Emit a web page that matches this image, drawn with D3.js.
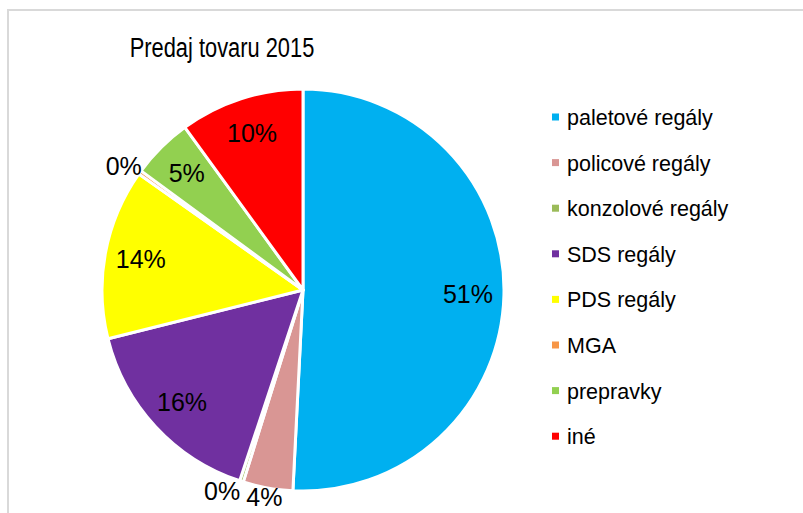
<!DOCTYPE html>
<html>
<head>
<meta charset="utf-8">
<script src="https://cdn.jsdelivr.net/npm/d3@7"></script>
<style>
  body { margin: 0; background: #fff; }
  text { font-family: "Liberation Sans", Arial, sans-serif; }
</style>
</head>
<body>
<div id="chart"></div>
<script>
var width = 803, height = 513;

// data (share of sales, %)
var categories = ["paletové regály", "policové regály", "konzolové regály", "SDS regály",
                  "PDS regály", "MGA", "prepravky", "iné"];
var values = [50.8, 4.0, 0.3, 16.0, 13.7, 0.3, 4.9, 10.0];
var palette = ["#00b0f0", "#d99694", "#9bbb59", "#7030a0", "#ffff00", "#f79646", "#92d050", "#ff0000"];
var title = "Predaj tovaru 2015";

var data = categories.map(function(c, i){ return {name: c, value: values[i]}; });
var total = d3.sum(values);

var color = d3.scaleOrdinal().domain(categories).range(palette);

var cx = 303, cy = 290, radius = 201;

var svg = d3.select("#chart")
    .append("svg")
    .attr("width", width)
    .attr("height", height);

// chart frame (runs off the picture to the right and bottom)
svg.append("rect")
    .attr("x", 8).attr("y", 10)
    .attr("width", 900).attr("height", 600)
    .attr("fill", "none")
    .attr("stroke", "#d9d9d9")
    .attr("stroke-width", 2);

//title, squeezed to look like the narrow original face
svg.append("text")
    .attr("transform", "translate(222, 57) scale(0.81, 1)")
    .attr("text-anchor", "middle")
    .attr("font-size", 27)
    .attr("fill", "#000")
    .text(title);

var pie = d3.pie().sort(null).value(function(d){ return d.value; });
var arcs = pie(data);

var arc = d3.arc().innerRadius(0).outerRadius(radius);

var g = svg.append("g")
    .attr("transform", "translate(" + cx + "," + cy + ")");

//slices
g.selectAll("path")
    .data(arcs)
    .join("path")
    .attr("d", arc)
    .attr("fill", function(d){ return color(d.data.name); })
    .attr("stroke", "#fff")
    .attr("stroke-width", 3)
    .attr("stroke-linejoin", "round");

//percent labels
var labelArc = d3.arc().innerRadius(165).outerRadius(165);
var placed = [];

g.selectAll("text")
    .data(arcs)
    .join("text")
    .attr("text-anchor", "middle")
    .attr("dy", "0.35em")
    .attr("font-size", 25)
    .attr("fill", "#000")
    .text(function(d){ return Math.round(d.data.value / total * 100) + "%"; })
    .each(function(d){
        var el = d3.select(this);
        var share = d.data.value / total;
        var mid = (d.startAngle + d.endAngle) / 2;
        var x, y;
        if (share >= 0.045) {
            var c = labelArc.centroid(d);
            x = c[0]; y = c[1];
        } else {
            // small slices get their label just outside the rim
            var w = this.getComputedTextLength(), h = 16;
            var r = radius + 2;
            x = r * Math.sin(mid) + (w / 2) * Math.sin(mid);
            y = -r * Math.cos(mid) - (h / 2) * Math.cos(mid);
            var dir = Math.sin(mid) < 0 ? -1 : 1;
            placed.forEach(function(p){
                var overlapX = (w / 2 + p.w / 2 + 6) - Math.abs(x - p.x);
                var overlapY = (h + 2) - Math.abs(y - p.y);
                if (overlapX > 0 && overlapY > 0) x += dir * overlapX;
            });
            placed.push({x: x, y: y, w: w});
        }
        el.attr("x", x).attr("y", y);
    });

//legend
var legend = svg.append("g")
    .attr("transform", "translate(552, 117)");

var rows = legend.selectAll("g")
    .data(categories)
    .join("g")
    .attr("transform", function(d, i){ return "translate(0," + (i * 45.6) + ")"; });

rows.append("rect")
    .attr("x", 0).attr("y", -3.5)
    .attr("width", 7).attr("height", 7)
    .attr("fill", function(d){ return color(d); });

rows.append("text")
    .attr("x", 15)
    .attr("y", 8)
    .attr("font-size", 21.5)
    .attr("fill", "#000")
    .text(function(d){ return d; });
</script>
</body>
</html>
